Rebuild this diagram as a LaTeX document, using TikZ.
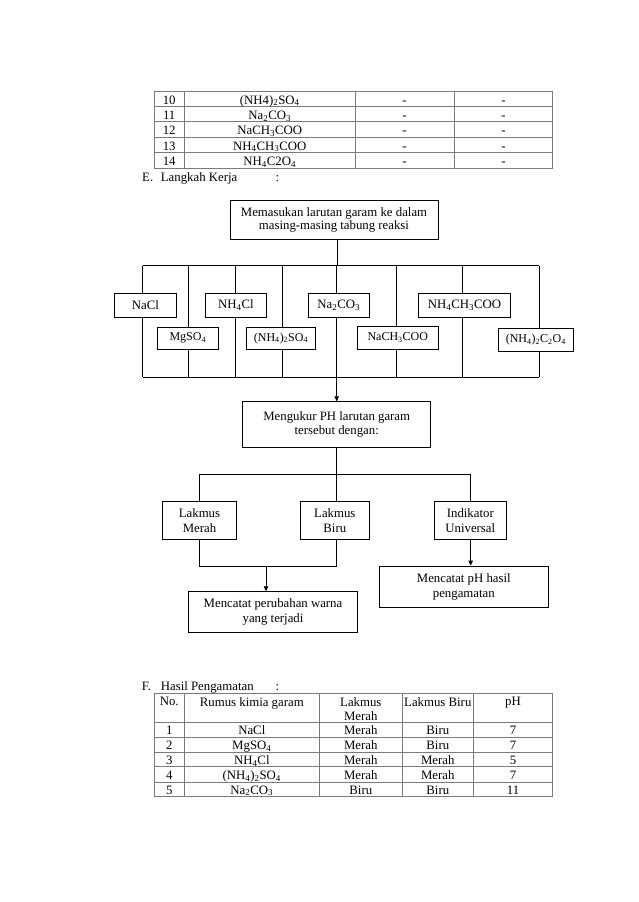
\documentclass[tikz,border=0pt]{standalone}
\usepackage{fontspec}
\setmainfont{Liberation Serif}
\usepackage{tikz}
\usetikzlibrary{positioning,arrows.meta}
\newcommand{\chsub}[1]{\textsubscript{#1}}
\definecolor{tablegray}{HTML}{7A7A7A}

\begin{document}
\begin{tikzpicture}[x=1pt, y=-1pt, font=\fontsize{12.8}{14.6}\selectfont,
  box/.style={draw, line width=0.9pt, fill=white, align=center, inner sep=0pt},
  saltlow/.style={box, font=\fontsize{12}{13}\selectfont},
  link/.style={line width=0.8pt},
  arr/.style={line width=0.8pt, -{Triangle[length=5pt,width=4.5pt]}},
  tabline/.style={draw=tablegray, line width=0.8pt},
  cell/.style={inner sep=0pt, text height=10pt, text depth=0.4pt},
  head/.style={inner sep=0pt, anchor=north, align=center}]
\useasboundingbox[fill=white] (0,0) rectangle (638,902);

% tabel lanjutan
\foreach \yy in {91.7,106.7,121.7,137.3,152.7,168.3}
  \draw[tabline] (154,\yy) -- (552.7,\yy);
\foreach \xx in {154,184.3,355.3,454,552.7}
  \draw[tabline] (\xx,91.7) -- (\xx,168.3);
\foreach \no/\rumus [count=\i] in {10/{(NH4)\chsub{2}SO\chsub{4}}, 11/{Na\chsub{2}CO\chsub{3}}, 12/{NaCH\chsub{3}COO}, 13/{NH\chsub{4}CH\chsub{3}COO}, 14/{NH\chsub{4}C2O\chsub{4}}} {
  \node[cell] (r\i-no) at (169.2,{84.04+15.32*\i}) {\no};
  \node[cell] (r\i-rumus) at (269.8,{84.04+15.32*\i}) {\rumus};
  \node[cell] (r\i-m) at (404.6,{84.04+15.32*\i}) {-};
  \node[cell] (r\i-b) at (503.4,{84.04+15.32*\i}) {-};
}

% E. Langkah Kerja
\node[inner sep=0pt, anchor=base west] (eno) at (142,181) {E.};
\node[inner sep=0pt, anchor=base west] (ejudul) at (160.7,181) {Langkah Kerja};
\node[inner sep=0pt, anchor=base west] (ecolon) at (275.5,181) {:};

\node[box, minimum width=208pt, minimum height=38.6pt, font=\fontsize{12.8}{13.6}\selectfont] (masuk) at (334,220) {Memasukan larutan garam ke dalam\\masing-masing tabung reaksi};

% garam
\node[box, minimum width=62.4pt, minimum height=24pt] (nacl) at (145.5,305.3) {NaCl};
\node[box, minimum width=61.4pt, minimum height=24pt] (nhcl) at (236,305.3) {NH\chsub{4}Cl};
\node[box, minimum width=61pt, minimum height=24pt] (naco) at (338.8,305.3) {Na\chsub{2}CO\chsub{3}};
\node[box, minimum width=92.4pt, minimum height=24pt] (nhac) at (464.5,305.3) {NH\chsub{4}CH\chsub{3}COO};
\node[saltlow, minimum width=61pt, minimum height=22pt] (mgso) at (187.8,338.3) {MgSO\chsub{4}};
\node[saltlow, minimum width=68.6pt, minimum height=22pt] (nhso) at (281,338.3) {(NH\chsub{4})\chsub{2}SO\chsub{4}};
\node[saltlow, minimum width=81pt, minimum height=23pt] (naac) at (397.8,337.8) {NaCH\chsub{3}COO};
\node[saltlow, minimum width=75pt, minimum height=23pt] (nhox) at (535.8,339.8) {(NH\chsub{4})\chsub{2}C\chsub{2}O\chsub{4}};

\coordinate (bustl) at (142.7,265.7);
\coordinate (bustr) at (539.3,265.7);
\coordinate (busbl) at (142.7,377);
\coordinate (busbr) at (539.3,377);
\coordinate (busin) at (337.3,265.7);
\coordinate (busout) at (336.7,377);
\draw[link] (bustl) -- (bustr);
\draw[link] (busbl) -- (busbr);
\draw[link] (masuk.south -| busin) -- (busin);
\foreach \xx/\bx in {142.7/nacl, 188.3/mgso, 235.7/nhcl, 282.3/nhso, 336.7/naco, 396.3/naac, 462.3/nhac, 539.3/nhox} {
  \coordinate (v) at (\xx,0);
  \draw[link] (v |- bustl) -- (v |- \bx.north);
  \draw[link] (v |- \bx.south) -- (v |- busbl);
}

\node[box, minimum width=188pt, minimum height=45.6pt] (ukur) at (336.7,424.5) {Mengukur PH larutan garam\\tersebut dengan:};
\draw[arr] (busout) -- (ukur.north);

% indikator
\node[box, minimum width=74.4pt, minimum height=37.6pt] (merah) at (199.5,520.5) {Lakmus\\Merah};
\node[box, minimum width=69pt, minimum height=37.6pt] (biru) at (334.8,520.5) {Lakmus\\Biru};
\node[box, minimum width=72.7pt, minimum height=37.6pt] (univ) at (470.3,520.5) {Indikator\\Universal};

\coordinate (splitl) at (199.3,474.7);
\coordinate (splitr) at (470.7,474.7);
\draw[link] (splitl) -- (splitr);
\draw[link] (ukur.south) -- (ukur |- splitl);
\draw[link] (splitl) -- (splitl |- merah.north);
\draw[link] (ukur |- splitl) -- (ukur |- biru.north);
\draw[link] (splitr) -- (splitr |- univ.north);

\node[box, minimum width=169.4pt, minimum height=41pt] (catwarna) at (273,612.2) {Mencatat perubahan warna\\yang terjadi};
\node[box, minimum width=169pt, minimum height=41.3pt] (catph) at (463.8,586.7) {Mencatat pH hasil\\pengamatan};

\coordinate (joinl) at (199.3,566);
\coordinate (joinmid) at (266,566);
\draw[link] (splitl |- merah.south) -- (joinl) -- (ukur |- joinl) -- (ukur |- biru.south);
\draw[arr] (joinmid) -- (joinmid |- catwarna.north);
\draw[arr] (splitr |- univ.south) -- (splitr |- catph.north);

% F. Hasil Pengamatan
\node[inner sep=0pt, anchor=base west] (fno) at (141.7,690.5) {F.};
\node[inner sep=0pt, anchor=base west] (fjudul) at (160.7,690.5) {Hasil Pengamatan};
\node[inner sep=0pt, anchor=base west] (fcolon) at (275.5,690.5) {:};

\foreach \yy in {693.3,722.7,737.3,752,766.7,782,796.7}
  \draw[tabline] (154,\yy) -- (552.7,\yy);
\foreach \xx in {154,184.3,319.3,402.3,473.3,552.7}
  \draw[tabline] (\xx,693.3) -- (\xx,796.7);
\node[head] (h-no) at (169.2,697.3) {No.};
\node[head] (h-rumus) at (251.8,697.3) {Rumus kimia garam};
\node[head] (h-m) at (360.8,697.3) {Lakmus\\Merah};
\node[head] (h-b) at (437.8,697.3) {Lakmus Biru};
\node[head] (h-ph) at (513,697.3) {pH};
\foreach \rumus/\m/\b/\ph [count=\i] in {NaCl/Merah/Biru/7, {MgSO\chsub{4}}/Merah/Biru/7, {NH\chsub{4}Cl}/Merah/Merah/5, {(NH\chsub{4})\chsub{2}SO\chsub{4}}/Merah/Merah/7, {Na\chsub{2}CO\chsub{3}}/Biru/Biru/11} {
  \node[cell] (s\i-no) at (169.2,{715.3+14.8*\i}) {\i};
  \node[cell] (s\i-rumus) at (251.8,{715.3+14.8*\i}) {\rumus};
  \node[cell] (s\i-m) at (360.8,{715.3+14.8*\i}) {\m};
  \node[cell] (s\i-b) at (437.8,{715.3+14.8*\i}) {\b};
  \node[cell] (s\i-ph) at (513,{715.3+14.8*\i}) {\ph};
}
\end{tikzpicture}
\end{document}
